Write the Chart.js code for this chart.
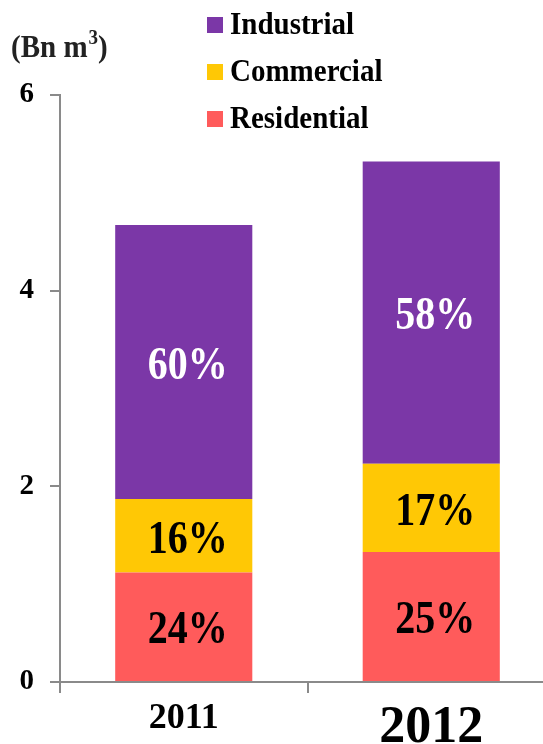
<!DOCTYPE html>
<html>
<head>
<meta charset="utf-8">
<script src="https://cdn.jsdelivr.net/npm/chart.js@4.4.1/dist/chart.umd.min.js"></script>
<style>
  html, body { margin: 0; padding: 0; background: #fff; overflow: hidden; }
  #wrap { position: relative; width: 555px; height: 744px; }
</style>
</head>
<body>
<div id="wrap"><canvas id="c"></canvas></div>
<script>
// Natural gas consumption by sector (Bn m3)
const years = ['2011', '2012'];
const residential = [1.12, 1.33];
const commercial = [0.75, 0.90];
const industrial = [2.80, 3.09];
const yTicks = [0, 2, 4, 6];

const SERIF = '"Liberation Serif", "Times New Roman", serif';
const AXIS_GREY = '#8a8a8a';

const series = [
  { label: 'Residential', data: residential, color: '#FF5B5B', text: '#000' },
  { label: 'Commercial', data: commercial, color: '#FFC805', text: '#000' },
  { label: 'Industrial', data: industrial, color: '#7B37A7', text: '#fff' }
];

const totals = years.map((_, i) => series.reduce((s, d) => s + d.data[i], 0));

// draw text slightly taller than wide, centred on (x, y)
function tallText(ctx, str, x, y, sy) {
  ctx.save();
  ctx.translate(x, y);
  ctx.scale(1, sy);
  ctx.fillText(str, 0, 0);
  ctx.restore();
}

// Percentage labels inside each stacked segment, unit title and legend
const annotate = {
  id: 'annotate',
  afterDatasetsDraw(chart) {
    const ctx = chart.ctx;
    ctx.save();
    ctx.textAlign = 'center';
    ctx.textBaseline = 'middle';
    ctx.font = 'bold 40px ' + SERIF;
    chart.data.datasets.forEach((ds, di) => {
      const meta = chart.getDatasetMeta(di);
      meta.data.forEach((bar, i) => {
        const pct = Math.round(ds.data[i] / totals[i] * 100) + '%';
        const yMid = (bar.y + bar.base) / 2 + 5;
        ctx.fillStyle = series[di].text;
        tallText(ctx, pct, bar.x + 4, yMid, 1.14);
      });
    });
    ctx.restore();
  },
  afterDraw(chart) {
    const ctx = chart.ctx;
    ctx.save();
    // unit title
    ctx.fillStyle = '#222';
    ctx.textBaseline = 'alphabetic';
    ctx.textAlign = 'left';
    ctx.font = 'bold 29px ' + SERIF;
    const t1 = '(Bn m';
    tallText(ctx, t1, 11, 57, 1.08);
    let x = 11 + ctx.measureText(t1).width;
    ctx.font = 'bold 19px ' + SERIF;
    tallText(ctx, '3', x + 1, 44, 1.08);
    x += ctx.measureText('3').width + 1;
    ctx.font = 'bold 29px ' + SERIF;
    tallText(ctx, ')', x, 57, 1.08);

    // legend, top segment first
    const items = chart.data.datasets.slice().reverse();
    ctx.font = 'bold 29px ' + SERIF;
    ctx.textBaseline = 'middle';
    items.forEach((ds, k) => {
      const cy = 25 + k * 47;
      ctx.fillStyle = ds.backgroundColor;
      ctx.fillRect(207, cy - 8, 16, 16);
      ctx.fillStyle = '#000';
      tallText(ctx, ds.label, 230, cy + 1, 1.1);
    });
    ctx.restore();
  }
};

new Chart(document.getElementById('c'), {
  type: 'bar',
  data: {
    labels: years,
    datasets: series.map(s => ({
      label: s.label,
      data: s.data,
      backgroundColor: s.color,
      borderWidth: 0,
      barPercentage: 0.554,
      categoryPercentage: 1.0
    }))
  },
  options: {
    responsive: true,
    maintainAspectRatio: false,
    animation: false,
    layout: { padding: { top: 95, right: 0, left: 0, bottom: 0 } },
    plugins: {
      legend: { display: false },
      tooltip: { enabled: false },
      title: { display: false }
    },
    scales: {
      x: {
        stacked: true,
        grid: {
          offset: true,
          drawOnChartArea: false,
          drawTicks: true,
          tickLength: 11,
          color: AXIS_GREY,
          lineWidth: 2
        },
        border: { display: true, color: AXIS_GREY, width: 2 },
        ticks: {
          color: '#000',
          padding: 4,
          font: (c) => ({ family: SERIF, weight: 'bold', size: c.index === 1 ? 52 : 36 })
        },
        afterFit(scale) { scale.height = 62; }
      },
      y: {
        stacked: true,
        min: 0,
        max: 6,
        afterBuildTicks(scale) { scale.ticks = yTicks.map(v => ({ value: v })); },
        grid: {
          drawOnChartArea: false,
          drawTicks: true,
          tickLength: 10,
          color: AXIS_GREY,
          lineWidth: 2
        },
        border: { display: true, color: AXIS_GREY, width: 2 },
        ticks: {
          color: '#000',
          padding: 16,
          font: { family: SERIF, weight: 'bold', size: 29 }
        },
        afterFit(scale) { scale.width = 60; }
      }
    }
  },
  plugins: [annotate]
});
</script>
</body>
</html>
